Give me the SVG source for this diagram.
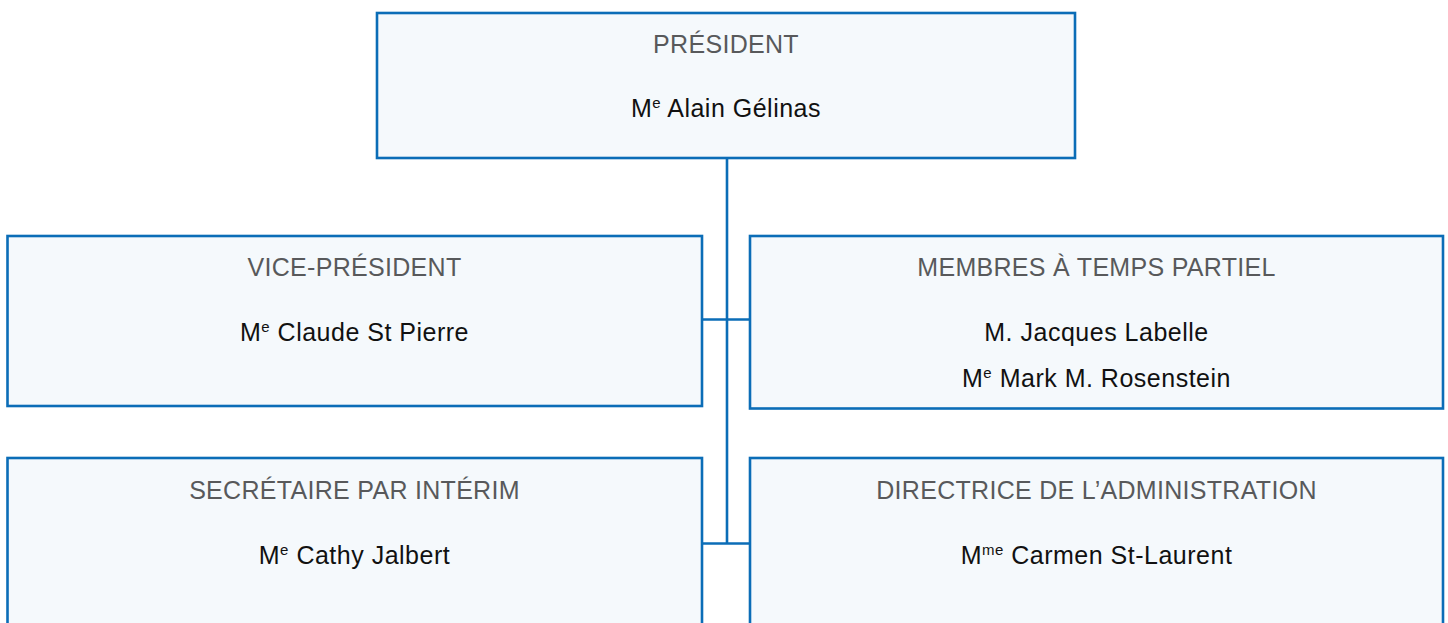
<svg xmlns="http://www.w3.org/2000/svg" width="1448" height="623" viewBox="0 0 1448 623">
<style>
.box{fill:#f5f9fc;stroke:#0b6db7;stroke-width:2.6}
.con{stroke:#0b6db7;stroke-width:2.6;fill:none}
text{font-family:"Liberation Sans",Arial,sans-serif;text-anchor:middle}
.h{font-size:25px;fill:#58595b;letter-spacing:0.3px}
.n{font-size:25px;fill:#111;letter-spacing:0.5px}
.sup{font-size:15px}
</style>
<rect width="1448" height="623" fill="#ffffff"/>
<g id="connectors">
<line class="con" x1="727" y1="158" x2="727" y2="544"/>
<line class="con" x1="702" y1="319.5" x2="750" y2="319.5"/>
<line class="con" x1="702" y1="543.5" x2="750" y2="543.5"/>
</g>
<g id="president">
<rect class="box" x="377" y="13" width="698" height="145"/>
<text class="h" x="726" y="53">PRÉSIDENT</text>
<text class="n" x="726" y="117">M<tspan class="sup" dy="-9">e</tspan><tspan dy="9"> Alain Gélinas</tspan></text>
</g>
<g id="vice-president">
<rect class="box" x="7.5" y="236" width="694.5" height="170"/>
<text class="h" x="354.5" y="276">VICE-PRÉSIDENT</text>
<text class="n" x="354.5" y="341">M<tspan class="sup" dy="-9">e</tspan><tspan dy="9"> Claude St Pierre</tspan></text>
</g>
<g id="membres">
<rect class="box" x="750" y="236" width="693" height="172.5"/>
<text class="h" x="1096.5" y="276">MEMBRES À TEMPS PARTIEL</text>
<text class="n" x="1096.5" y="341">M. Jacques Labelle</text>
<text class="n" x="1096.5" y="387">M<tspan class="sup" dy="-9">e</tspan><tspan dy="9"> Mark M. Rosenstein</tspan></text>
</g>
<g id="secretaire">
<rect class="box" x="7.5" y="458" width="694.5" height="190"/>
<text class="h" x="354.5" y="499">SECRÉTAIRE PAR INTÉRIM</text>
<text class="n" x="354.5" y="564">M<tspan class="sup" dy="-9">e</tspan><tspan dy="9"> Cathy Jalbert</tspan></text>
</g>
<g id="directrice">
<rect class="box" x="750" y="458" width="693" height="190"/>
<text class="h" x="1096.5" y="499">DIRECTRICE DE L’ADMINISTRATION</text>
<text class="n" x="1096.5" y="564">M<tspan class="sup" dy="-9">me</tspan><tspan dy="9"> Carmen St-Laurent</tspan></text>
</g>
</svg>
